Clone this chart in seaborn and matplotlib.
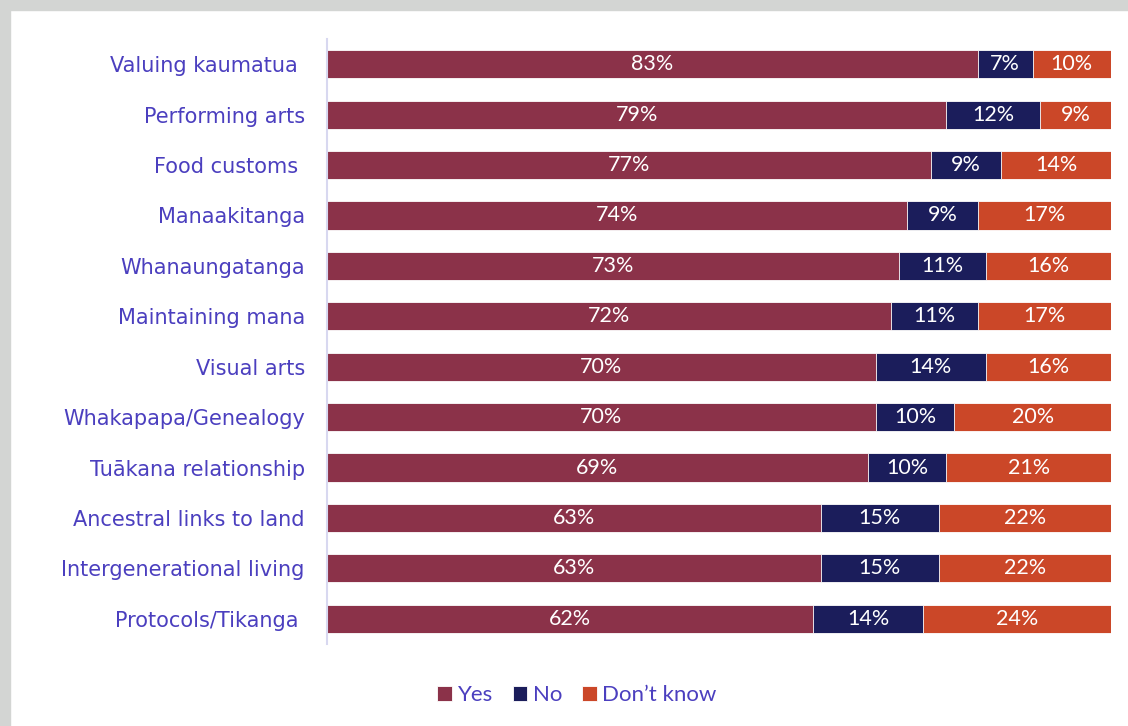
import matplotlib
matplotlib.use("Agg")
import matplotlib.pyplot as plt
from matplotlib.patches import Rectangle
import seaborn as sns
import pandas as pd
import numpy as np

categories = ["Valuing kaumatua ", "Performing arts", "Food customs ", "Manaakitanga",
              "Whanaungatanga", "Maintaining mana", "Visual arts", "Whakapapa/Genealogy",
              "Tuākana relationship", "Ancestral links to land", "Intergenerational living",
              "Protocols/Tikanga "]
yes = [83, 79, 77, 74, 73, 72, 70, 70, 69, 63, 63, 62]
no = [7, 12, 9, 9, 11, 11, 14, 10, 10, 15, 15, 14]
dont_know = [10, 9, 14, 17, 16, 17, 16, 20, 21, 22, 22, 24]
series_names = ["Yes", "No", "Don’t know"]
colors = ["#8B3249", "#1B1D5B", "#CB4728"]
label_color = "#4B3FBF"

sns.set_theme(style="white")
plt.rcParams["font.family"] = ["Lato", "DejaVu Sans"]

df = pd.DataFrame({"cat": categories, "Yes": yes, "No": no, "Don’t know": dont_know})
df["c_yes"] = df["Yes"]
df["c_no"] = df["Yes"] + df["No"]
df["c_dk"] = df["Yes"] + df["No"] + df["Don’t know"]

fig = plt.figure(figsize=(11.28, 7.26), dpi=100)
fig.patch.set_facecolor("white")
ax = fig.add_axes([327/1128, 1-644/726, (1111-327)/1128, (644-39)/726])

bh = 0.56
for col, name, color in [("c_dk", "Don’t know", colors[2]), ("c_no", "No", colors[1]), ("c_yes", "Yes", colors[0])]:
    sns.barplot(data=df, x=col, y="cat", orient="h", color=color, width=bh,
                edgecolor="white", linewidth=0.6, ax=ax, label=name, saturation=1)

# segment labels
starts = [np.zeros(len(yes)), np.array(yes), np.array(yes) + np.array(no)]
for vals, st in zip([yes, no, dont_know], starts):
    for i, (v, s) in enumerate(zip(vals, st)):
        ax.text(s + v / 2, i, f"{v}%", ha="center", va="center", color="white",
                fontsize=15.5, family=["Lato", "DejaVu Sans"])

ax.set_xlim(0, 100)
ax.set_ylim(len(categories) - 0.5, -0.5)
ax.set_xlabel("")
ax.set_ylabel("")
ax.set_xticks([])
for s in ["top", "right", "bottom"]:
    ax.spines[s].set_visible(False)
ax.spines["left"].set_color("#d8d8f0")
ax.spines["left"].set_linewidth(1.5)
ax.tick_params(axis="y", length=0, pad=16)
for lab in ax.get_yticklabels():
    lab.set_color(label_color)
    lab.set_fontsize(15)
    lab.set_family(["DejaVu Sans"])

h, l = ax.get_legend_handles_labels()
order = [l.index(n) for n in series_names]
if ax.get_legend():
    ax.get_legend().remove()
fig.legend([h[i] for i in order], [l[i] for i in order], loc="center",
           bbox_to_anchor=(577/1128, 1-695/726), ncol=3, frameon=False,
           fontsize=16, handlelength=0.65, handleheight=0.65, handletextpad=0.25,
           columnspacing=0.9, labelcolor=label_color)

fig.patches.append(Rectangle((0, 1-10/726), 1, 10/726, transform=fig.transFigure,
                             color="#d3d5d3", zorder=0))
fig.patches.append(Rectangle((0, 0), 10/1128, 1, transform=fig.transFigure,
                             color="#d3d5d3", zorder=0))

fig.savefig("out.png", dpi=100)
